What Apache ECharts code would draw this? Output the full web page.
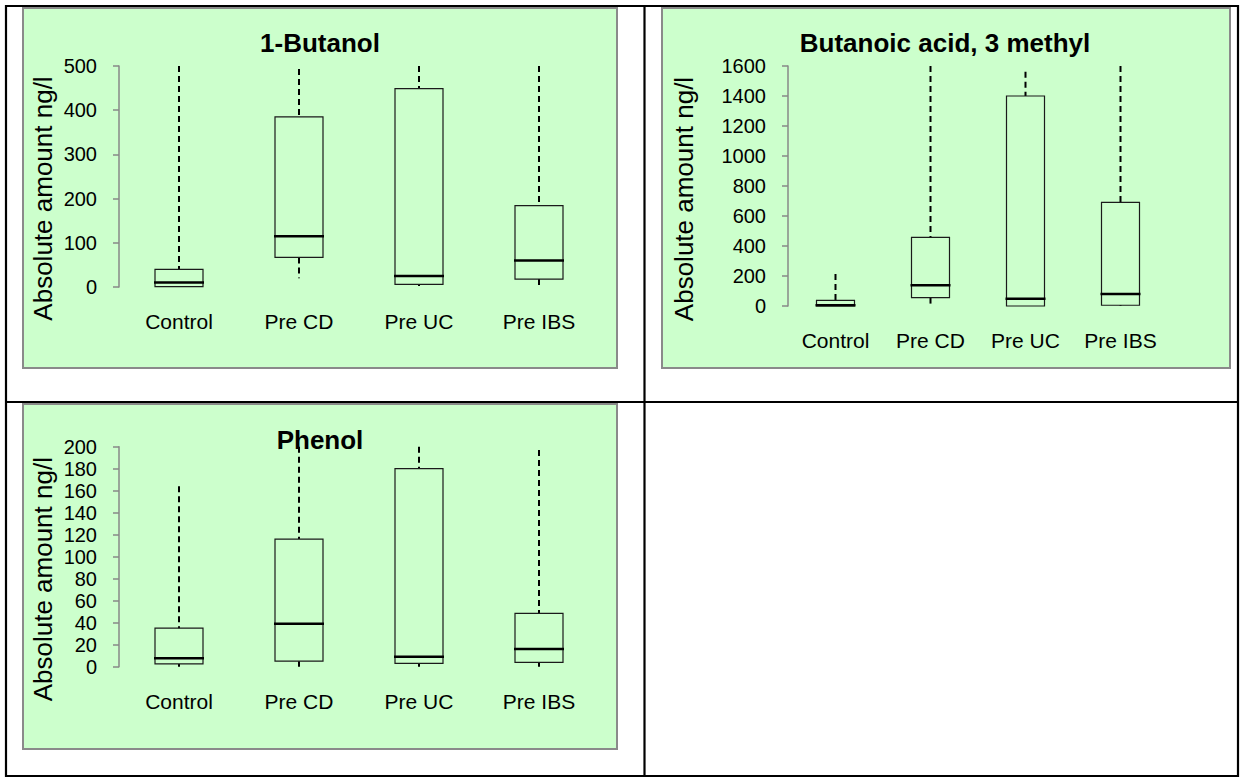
<!DOCTYPE html>
<html><head><meta charset="utf-8">
<script src="https://cdn.jsdelivr.net/npm/echarts@6.0.0/dist/echarts.min.js"></script>
<style>html,body{margin:0;padding:0;background:#fff}#c{width:1240px;height:778px}</style>
</head><body><div id="c"></div>
<script>
// ---- data ----
const categories = ['Control', 'Pre CD', 'Pre UC', 'Pre IBS'];
const panelTitles = ['1-Butanol', 'Butanoic acid, 3 methyl', 'Phenol'];
const yAxisName = 'Absolute amount ng/l';
// each entry: [min, q1, median, q3, max]
const butanol = [[0, 1, 10, 40, 500], [20, 67, 115, 385, 493], [2, 6, 25, 449, 500], [2, 18, 60, 184, 500]];
const butanoicAcid = [[0, 0, 5, 38, 213], [0, 56, 138, 458, 1600], [0, 0, 49, 1400, 1562], [0, 5, 80, 691, 1600]];
const phenol = [[0, 2.5, 7.6, 35, 164], [0, 5, 39, 116, 200], [0, 3, 9, 180, 200], [0, 4, 16, 48.5, 197]];
const yMaxes = [500, 1600, 200];
const yIntervals = [100, 200, 20];

// ---- layout ----
const panels = [{x: 23, y: 8, w: 594, h: 360}, {x: 662, y: 8, w: 568, h: 360}, {x: 23, y: 404, w: 594, h: 345}];
const grids = [{left: 119, top: 66, width: 480, height: 221}, {left: 788, top: 66, width: 380, height: 240}, {left: 119, top: 446.7, width: 480, height: 220}];
const titlePos = [{x: 320, y: 30}, {x: 945, y: 30}, {x: 320, y: 427}];
const nameGaps = [63, 91, 63];
const namePads = [44, 26, 45];
const seriesData = [butanol, butanoicAcid, phenol];

function renderBox(params, api) {
  const c = api.value(0);
  const ys = [1, 2, 3, 4, 5].map(i => api.coord([c, api.value(i)])[1]);
  const cx = api.coord([c, 0])[0];
  const hw = api.size([1, 0])[0] * 0.2;
  const [yMin, yQ1, yMed, yQ3, yMax] = ys;
  const dash = {stroke: '#000', lineWidth: 2, lineDash: [6, 4], fill: null};
  return {
    type: 'group',
    children: [
      {type: 'line', shape: {x1: cx, y1: yMax, x2: cx, y2: yQ3}, style: dash},
      {type: 'line', shape: {x1: cx, y1: yQ1, x2: cx, y2: yMin}, style: dash},
      {type: 'rect', shape: {x: cx - hw, y: yQ3, width: 2 * hw, height: yQ1 - yQ3}, style: {fill: 'rgba(0,0,0,0)', stroke: '#1a1a1a', lineWidth: 1.2}},
      {type: 'line', shape: {x1: cx - hw - 1, y1: yMed, x2: cx + hw + 1, y2: yMed}, style: {stroke: '#000', lineWidth: 2.5}}
    ]
  };
}

const graphics = [];
panels.forEach(p => graphics.push({type: 'rect', z: -10, shape: {x: p.x, y: p.y, width: p.w, height: p.h}, style: {fill: '#CCFFCC', stroke: '#8a8a8a', lineWidth: 2}}));
const tableLines = [[5, 6, 1239, 6], [5, 776, 1239, 776], [6, 5, 6, 777], [1238, 5, 1238, 777], [644.5, 5, 644.5, 777], [5, 402, 1239, 402]];
tableLines.forEach(l => graphics.push({type: 'line', z: -10, shape: {x1: l[0], y1: l[1], x2: l[2], y2: l[3]}, style: {stroke: '#000', lineWidth: 2.2}}));

const option = {
  animation: false,
  backgroundColor: '#fff',
  textStyle: {fontFamily: 'Liberation Sans, Arial, sans-serif'},
  title: panelTitles.map((t, i) => ({
    text: t, left: titlePos[i].x, top: titlePos[i].y, textAlign: 'center', padding: 0,
    textStyle: {fontSize: 26, fontWeight: 'bold', color: '#000', fontFamily: 'Liberation Sans, Arial, sans-serif'}
  })),
  graphic: graphics,
  grid: grids.map(g => Object.assign({containLabel: false}, g)),
  xAxis: grids.map((g, i) => ({
    type: 'category', gridIndex: i, data: categories,
    axisLine: {show: false}, axisTick: {show: false},
    axisLabel: {fontSize: 21, color: '#000', margin: 24, interval: 0}
  })),
  yAxis: grids.map((g, i) => ({
    type: 'value', gridIndex: i, min: 0, max: yMaxes[i], interval: yIntervals[i],
    name: yAxisName, nameLocation: 'middle', nameRotate: 90, nameGap: nameGaps[i],
    nameTextStyle: {fontSize: 26, color: '#000', padding: [0, namePads[i], 0, 0]},
    axisLine: {show: true, lineStyle: {color: '#888', width: 1.5}},
    axisTick: {show: true, length: 6, lineStyle: {color: '#888', width: 1.5}},
    axisLabel: {fontSize: 20, color: '#000', margin: 22, formatter: v => String(v)},
    splitLine: {show: false}
  })),
  series: seriesData.map((d, i) => ({
    type: 'custom', xAxisIndex: i, yAxisIndex: i,
    renderItem: renderBox,
    encode: {x: 0, y: [1, 2, 3, 4, 5]},
    data: d.map((v, k) => [k].concat(v))
  }))
};
const chart = echarts.init(document.getElementById('c'), null, {renderer: 'svg', width: 1240, height: 778});
chart.setOption(option);
</script></body></html>
